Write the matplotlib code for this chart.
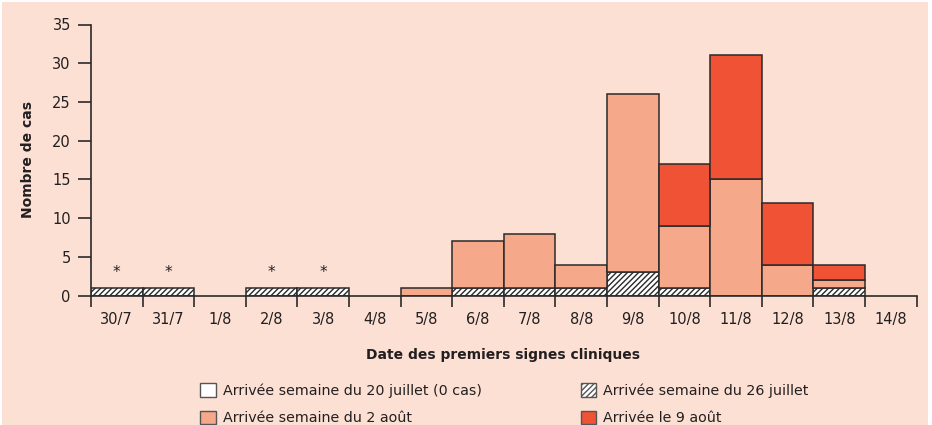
import numpy as np
import matplotlib
matplotlib.use("Agg")
import matplotlib.pyplot as plt
from matplotlib.patches import Patch, Rectangle

plt.rcParams['font.family'] = ['Liberation Sans Narrow', 'DejaVu Sans']
plt.rcParams['hatch.linewidth'] = 1.0
plt.rcParams['hatch.color'] = '#222222'

dates = ["30/7", "31/7", "1/8", "2/8", "3/8", "4/8", "5/8", "6/8", "7/8",
         "8/8", "9/8", "10/8", "11/8", "12/8", "13/8", "14/8"]
sem_20_juillet = [0, 0, 0, 0, 0, 0, 0, 0, 0, 0, 0, 0, 0, 0, 0, 0]
sem_26_juillet = [1, 1, 0, 1, 1, 0, 0, 1, 1, 1, 3, 1, 0, 0, 1, 0]
sem_2_aout = [0, 0, 0, 0, 0, 0, 1, 6, 7, 3, 23, 8, 15, 4, 1, 0]
le_9_aout = [0, 0, 0, 0, 0, 0, 0, 0, 0, 0, 0, 8, 16, 8, 2, 0]
star_dates = ["30/7", "31/7", "2/8", "3/8"]

bg = '#FDE0D4'
c_salmon = '#F6A88A'
c_red = '#EF5234'
edge = '#2a2a2a'
txt = '#231f20'

fig = plt.figure(figsize=(9.32, 4.25), dpi=100, facecolor='white')
fig.patches.append(Rectangle((2/932, 0), 926/932, 423/425, transform=fig.transFigure,
                             facecolor=bg, edgecolor='none', zorder=-10))
ax = fig.add_axes([91/932, 129.5/425, (916.7-91)/932, (295.5-24.5)/425])
ax.set_facecolor('none')

x = np.arange(len(dates))
h1 = np.array(sem_26_juillet, float)
h2 = np.array(sem_2_aout, float)
h3 = np.array(le_9_aout, float)

def draw(h, bottom, **kw):
    m = h > 0
    ax.bar(x[m], h[m], bottom=bottom[m], width=1.0, edgecolor=edge, linewidth=1.1, **kw)

draw(h1, np.zeros_like(h1), facecolor='white', hatch='//////')
draw(h2, h1, facecolor=c_salmon)
draw(h3, h1 + h2, facecolor=c_red)

for d in star_dates:
    ax.text(dates.index(d), 3.0, '*', ha='center', va='center', fontsize=11, color=txt)

ax.set_xlim(-0.5, len(dates) - 0.5)
ax.set_ylim(0, 35)
ax.set_yticks(range(0, 36, 5))
ax.set_xticks(np.arange(len(dates) + 1) - 0.5)
ax.set_xticklabels([])
ax.set_xticks(x, minor=True)
ax.set_xticklabels(dates, minor=True)
ax.tick_params(axis='x', which='major', direction='out', length=8, width=1.2, color=edge)
ax.tick_params(axis='x', which='minor', length=0, pad=12, labelsize=10.5, labelcolor=txt)
ax.tick_params(axis='y', direction='out', length=9.5, width=1.2, color=edge, pad=5,
               labelsize=10.5, labelcolor=txt)
for s in ['top', 'right']:
    ax.spines[s].set_visible(False)
for s in ['left', 'bottom']:
    ax.spines[s].set_color(edge)
    ax.spines[s].set_linewidth(1.2)

ax.set_ylabel('Nombre de cas', fontsize=10, fontweight='bold', color=txt, labelpad=12)
fig.text(503/932, 1 - 355/425, 'Date des premiers signes cliniques', ha='center', va='center',
         fontsize=10, fontweight='bold', color=txt)

handles = [
    Patch(facecolor='white', edgecolor='#555555', linewidth=1.0, label='Arrivée semaine du 20 juillet (0 cas)'),
    Patch(facecolor=c_salmon, edgecolor='#555555', linewidth=1.0, label='Arrivée semaine du 2 août'),
    Patch(facecolor='white', edgecolor='#555555', linewidth=1.0, hatch='//////', label='Arrivée semaine du 26 juillet'),
    Patch(facecolor=c_red, edgecolor='#555555', linewidth=1.0, label='Arrivée le 9 août'),
]
leg = fig.legend(handles=handles, ncol=2, loc='upper left', bbox_to_anchor=(200/932, 1 - 383/425),
                 frameon=False, fontsize=10.3, handlelength=1.1, handleheight=1.1,
                 handletextpad=0.5, labelspacing=0.9, columnspacing=6.9, borderpad=0,
                 borderaxespad=0)
for t in leg.get_texts():
    t.set_color(txt)

fig.savefig('out.png', dpi=100, facecolor=fig.get_facecolor())
